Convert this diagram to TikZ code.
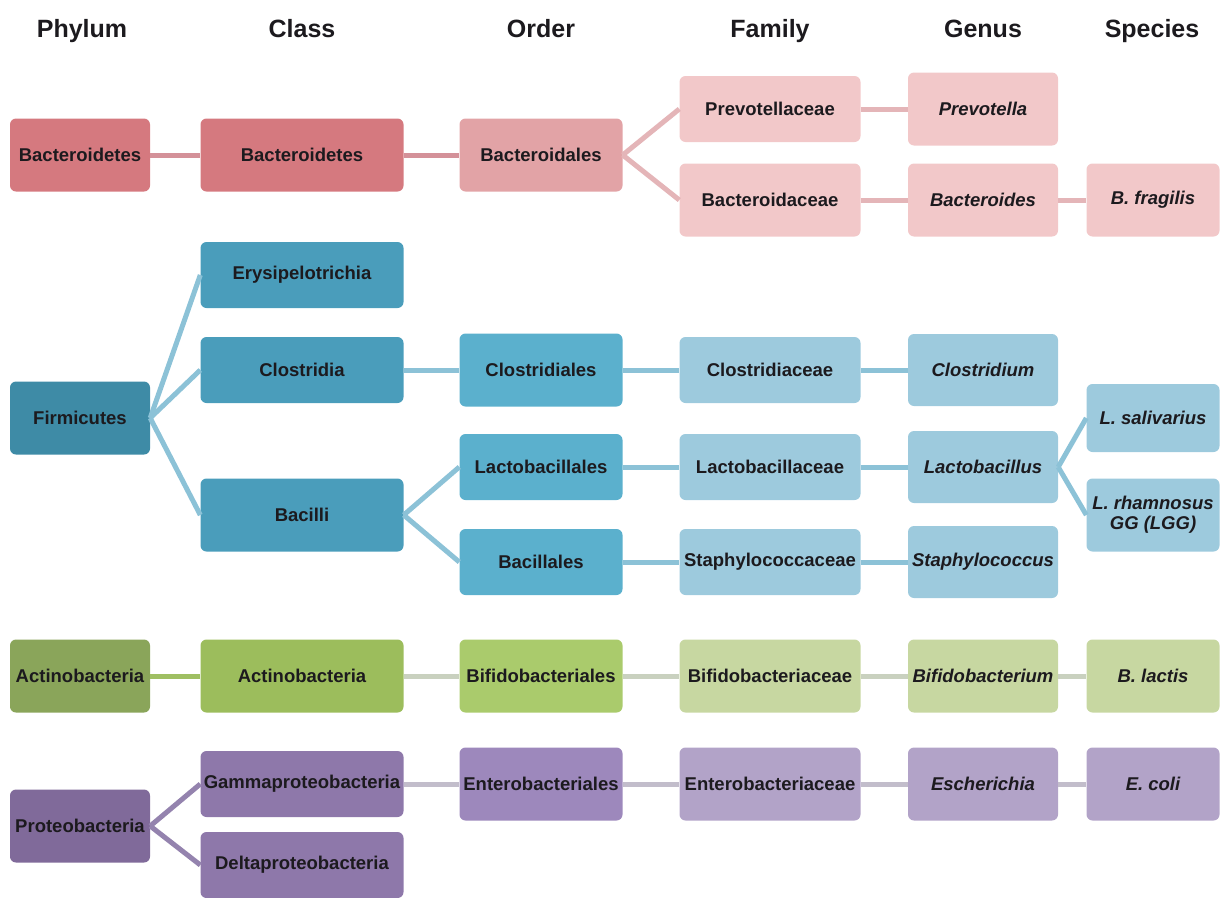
\documentclass[tikz,border=0pt]{standalone}
\usepackage{fontspec}
\setmainfont{Liberation Sans}
\usetikzlibrary{positioning}
% fills
\definecolor{bacA}{HTML}{D5797F}
\definecolor{bacB}{HTML}{E2A3A6}
\definecolor{bacC}{HTML}{F2C8C9}
\definecolor{firA}{HTML}{3E8BA6}
\definecolor{firB}{HTML}{4A9DBB}
\definecolor{firC}{HTML}{5BB0CD}
\definecolor{firD}{HTML}{9DCADD}
\definecolor{actA}{HTML}{8AA55A}
\definecolor{actB}{HTML}{9CBD5C}
\definecolor{actC}{HTML}{AACB6C}
\definecolor{actD}{HTML}{C7D7A1}
\definecolor{proA}{HTML}{806A9A}
\definecolor{proB}{HTML}{8E78AA}
\definecolor{proC}{HTML}{9D88BC}
\definecolor{proD}{HTML}{B2A3C8}
% links
\definecolor{bacL}{HTML}{D49199}
\definecolor{bacM}{HTML}{E4B5B8}
\definecolor{firL}{HTML}{8CC2D7}
\definecolor{actL}{HTML}{9FBF63}
\definecolor{actM}{HTML}{C9D1BF}
\definecolor{proL}{HTML}{9483AE}
\definecolor{proM}{HTML}{C2BDCB}
\definecolor{ink}{HTML}{1C1A1E}
\tikzstyle{taxon} = [rectangle, rounded corners=6pt, minimum height=73pt, inner sep=1pt, text centered, align=center, text=ink, font=\fontsize{18.5}{20}\selectfont\bfseries]
\tikzstyle{short} = [minimum height=66pt]
\tikzstyle{phy} = [taxon, minimum width=140pt]
\tikzstyle{cls} = [taxon, minimum width=203pt]
\tikzstyle{ord} = [taxon, minimum width=163pt]
\tikzstyle{fam} = [taxon, minimum width=181pt]
\tikzstyle{gen} = [taxon, minimum width=150pt, font=\fontsize{18.5}{20}\selectfont\bfseries\itshape]
\tikzstyle{spc} = [taxon, minimum width=133pt, font=\fontsize{18.5}{20}\selectfont\bfseries\itshape]
\tikzstyle{head} = [anchor=base, text=ink, font=\fontsize{25}{27}\selectfont\bfseries]
\tikzstyle{link} = [line width=5pt]

\begin{document}
\begin{tikzpicture}[x=1pt, y=-1pt]
\useasboundingbox (0,0) rectangle (1230,897);

\node (h1) [head] at (82,37) {Phylum};
\node (h2) [head] at (302,37) {Class};
\node (h3) [head] at (541,37) {Order};
\node (h4) [head] at (770,37) {Family};
\node (h5) [head] at (983,37) {Genus};
\node (h6) [head] at (1152,37) {Species};

% Bacteroidetes
\node (pBac) [phy, fill=bacA] at (80,155) {Bacteroidetes};
\node (cBac) [cls, fill=bacA] at (302,155) {Bacteroidetes};
\node (oBac) [ord, fill=bacB] at (541,155) {Bacteroidales};
\node (fPre) [fam, short, fill=bacC] at (770,109) {Prevotellaceae};
\node (fBac) [fam, fill=bacC] at (770,200) {Bacteroidaceae};
\node (gPre) [gen, fill=bacC] at (983,109) {Prevotella};
\node (gBac) [gen, fill=bacC] at (983,200) {Bacteroides};
\node (sBfr) [spc, fill=bacC] at (1153,200) {B. fragilis};

% Firmicutes
\node (pFir) [phy, fill=firA] at (80,418) {Firmicutes};
\node (cEry) [cls, short, fill=firB] at (302,275) {Erysipelotrichia};
\node (cClo) [cls, short, fill=firB] at (302,370) {Clostridia};
\node (cBcl) [cls, fill=firB] at (302,515) {Bacilli};
\node (oClo) [ord, fill=firC] at (541,370) {Clostridiales};
\node (oLac) [ord, short, fill=firC] at (541,467) {Lactobacillales};
\node (oBcl) [ord, short, fill=firC] at (541,562) {Bacillales};
\node (fClo) [fam, short, fill=firD] at (770,370) {Clostridiaceae};
\node (fLac) [fam, short, fill=firD] at (770,467) {Lactobacillaceae};
\node (fSta) [fam, short, fill=firD] at (770,562) {Staphylococcaceae};
\node (gClo) [gen, minimum height=72pt, fill=firD] at (983,370) {Clostridium};
\node (gLac) [gen, minimum height=72pt, fill=firD] at (983,467) {Lactobacillus};
\node (gSta) [gen, minimum height=72pt, fill=firD] at (983,562) {Staphylococcus};
\node (sLsa) [spc, minimum height=68pt, fill=firD] at (1153,418) {L. salivarius};
\node (sLrh) [spc, fill=firD] at (1153,515) {L. rhamnosus\\GG (LGG)};

% Actinobacteria
\node (pAct) [phy, fill=actA] at (80,676) {Actinobacteria};
\node (cAct) [cls, fill=actB] at (302,676) {Actinobacteria};
\node (oBif) [ord, fill=actC] at (541,676) {Bifidobacteriales};
\node (fBif) [fam, fill=actD] at (770,676) {Bifidobacteriaceae};
\node (gBif) [gen, fill=actD] at (983,676) {Bifidobacterium};
\node (sBla) [spc, fill=actD] at (1153,676) {B. lactis};

% Proteobacteria
\node (pPro) [phy, fill=proA] at (80,826) {Proteobacteria};
\node (cGam) [cls, short, fill=proB] at (302,784) {Gammaproteobacteria};
\node (cDel) [cls, short, fill=proB] at (302,865) {Deltaproteobacteria};
\node (oEnt) [ord, fill=proC] at (541,784) {Enterobacteriales};
\node (fEnt) [fam, fill=proD] at (770,784) {Enterobacteriaceae};
\node (gEsc) [gen, fill=proD] at (983,784) {Escherichia};
\node (sEco) [spc, fill=proD] at (1153,784) {E. coli};

\draw [link, bacL] (pBac.east) -- (cBac.west);
\draw [link, bacL] (cBac.east) -- (oBac.west);
\draw [link, bacM] (oBac.east) -- (fPre.west);
\draw [link, bacM] (oBac.east) -- (fBac.west);
\draw [link, bacM] (fPre.east) -- (gPre.west);
\draw [link, bacM] (fBac.east) -- (gBac.west);
\draw [link, bacM] (gBac.east) -- (sBfr.west);

\draw [link, firL] (pFir.east) -- (cEry.west);
\draw [link, firL] (pFir.east) -- (cClo.west);
\draw [link, firL] (pFir.east) -- (cBcl.west);
\draw [link, firL] (cClo.east) -- (oClo.west);
\draw [link, firL] (cBcl.east) -- (oLac.west);
\draw [link, firL] (cBcl.east) -- (oBcl.west);
\draw [link, firL] (oClo.east) -- (fClo.west);
\draw [link, firL] (oLac.east) -- (fLac.west);
\draw [link, firL] (oBcl.east) -- (fSta.west);
\draw [link, firL] (fClo.east) -- (gClo.west);
\draw [link, firL] (fLac.east) -- (gLac.west);
\draw [link, firL] (fSta.east) -- (gSta.west);
\draw [link, firL] (gLac.east) -- (sLsa.west);
\draw [link, firL] (gLac.east) -- (sLrh.west);

\draw [link, actL] (pAct.east) -- (cAct.west);
\draw [link, actM] (cAct.east) -- (oBif.west);
\draw [link, actM] (oBif.east) -- (fBif.west);
\draw [link, actM] (fBif.east) -- (gBif.west);
\draw [link, actM] (gBif.east) -- (sBla.west);

\draw [link, proL] (pPro.east) -- (cGam.west);
\draw [link, proL] (pPro.east) -- (cDel.west);
\draw [link, proM] (cGam.east) -- (oEnt.west);
\draw [link, proM] (oEnt.east) -- (fEnt.west);
\draw [link, proM] (fEnt.east) -- (gEsc.west);
\draw [link, proM] (gEsc.east) -- (sEco.west);

\end{tikzpicture}
\end{document}
